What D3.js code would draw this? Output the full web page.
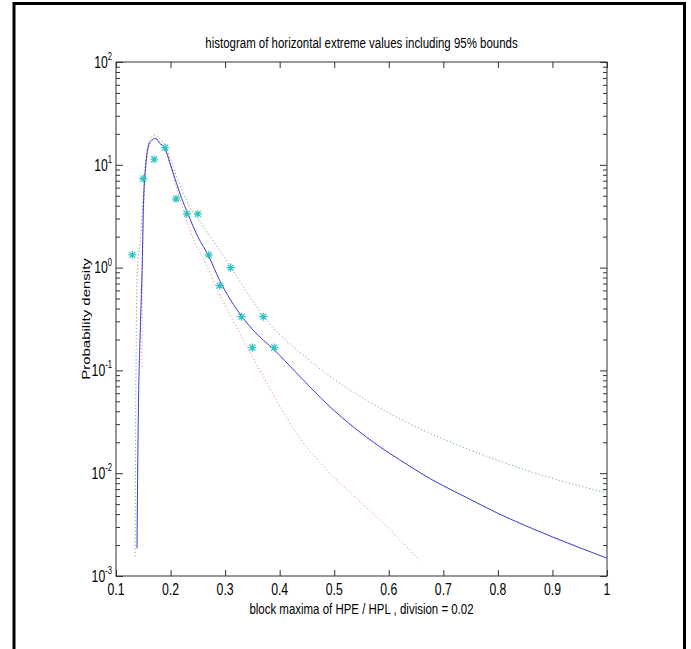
<!DOCTYPE html>
<html lang="en">
<head>
  <meta charset="UTF-8">
  <title>histogram of horizontal extreme values</title>
  <script src="https://d3js.org/d3.v7.min.js"></script>
  <style>
    body { margin: 0; background: #fff; }
    text { font-family: 'Liberation Sans', Arial, sans-serif; fill: #000; }
    .axis path.domain { display: none; }
    .axis line { stroke: #333; }
  </style>
</head>
<body>
  <svg width="691" height="649"></svg>

  <script>
    // histogram bins (density, division = 0.02)
    const binCenters = [0.13, 0.15, 0.17, 0.19, 0.21, 0.23, 0.25, 0.27, 0.29, 0.31, 0.33, 0.35, 0.37, 0.39];
    const binDensity = [1.33, 7.33, 11.33, 14.67, 4.67, 3.33, 3.33, 1.33, 0.667, 1.0, 0.333, 0.167, 0.333, 0.167];

    // fitted density (solid blue)
    const fitX = [0.1385, 0.1397, 0.1415, 0.144, 0.149, 0.150, 0.155, 0.159, 0.165, 0.1727, 0.18, 0.19, 0.199, 0.211,
                  0.22, 0.2306, 0.25, 0.27, 0.29, 0.31, 0.33, 0.35, 0.37, 0.388, 0.43, 0.492, 0.5835,
                  0.62, 0.675, 0.742, 0.8, 0.864, 0.9, 1.0];
    const fitY = [0.00186, 0.01, 0.058, 0.198, 1.85, 3.63, 10.4, 15.0, 17.3, 18.1, 16.2, 14.4, 10.4, 6.6,
                  4.78, 3.45, 2.0, 1.29, 0.75, 0.484, 0.339, 0.251, 0.197, 0.162, 0.0955, 0.0444, 0.0181,
                  0.0135, 0.0089, 0.00582, 0.00407, 0.00288, 0.0024, 0.00149];

    // 95% bound curves (dotted)
    const upperX = [0.135, 0.1367, 0.139, 0.1445, 0.15, 0.155, 0.165, 0.172, 0.18, 0.19, 0.21, 0.23, 0.255,
                    0.31, 0.37, 0.461, 0.553, 0.62, 0.675, 0.742, 0.864, 1.0];
    const upperY = [0.00155, 0.118, 0.885, 1.85, 5.0, 12.0, 18.5, 19.5, 18.0, 15.5, 8.0, 4.4, 2.75,
                    1.02, 0.338, 0.1175, 0.0537, 0.0339, 0.0245, 0.0174, 0.0102, 0.0064];
    const lowerX = [0.1476, 0.148, 0.149, 0.152, 0.158, 0.166, 0.174, 0.182, 0.19, 0.2, 0.21, 0.22, 0.24,
                    0.263, 0.285, 0.309, 0.37, 0.431, 0.492, 0.544, 0.6, 0.656];
    const lowerY = [0.108, 0.5, 1.5, 5.0, 13.0, 17.0, 17.5, 16.0, 13.5, 9.5, 6.2, 4.2, 2.0,
                    1.14, 0.62, 0.346, 0.0869, 0.0244, 0.01, 0.0055, 0.0029, 0.00143];

    const xTicks = [0.1, 0.2, 0.3, 0.4, 0.5, 0.6, 0.7, 0.8, 0.9, 1];
    const xTickLabels = ["0.1", "0.2", "0.3", "0.4", "0.5", "0.6", "0.7", "0.8", "0.9", "1"];
    const yExponents = [-3, -2, -1, 0, 1, 2];

    const svg = d3.select("svg"),
          margin = { top: 62, right: 84, bottom: 73, left: 116 },
          width = +svg.attr("width") - margin.left - margin.right,
          height = +svg.attr("height") - margin.top - margin.bottom;

    // the picture is squeezed sideways, so horizontal text is too
    const squeeze = 0.765;

    svg.append("rect").attr("width", 691).attr("height", 649).attr("fill", "#fff");

    // outer frame (no bottom edge)
    svg.append("path")
      .attr("d", "M14,649V3.5H684.5V649")
      .attr("fill", "none").attr("stroke", "#000").attr("stroke-width", 3);

    const x = d3.scaleLinear().domain([0.1, 1]).range([0, width]);
    const y = d3.scaleLog().domain([1e-3, 1e2]).range([height, 0]);

    const g = svg.append("g")
      .attr("transform", "translate(" + margin.left + "," + margin.top + ")");

    g.append("rect")
      .attr("width", width).attr("height", height)
      .attr("fill", "none").attr("stroke", "#333");

    // x axes, ticks pointing in
    g.append("g")
      .attr("class", "axis")
      .attr("transform", "translate(0," + height + ")")
      .call(d3.axisBottom(x).tickValues(xTicks).tickSizeInner(-6).tickSizeOuter(0).tickFormat(""));
    g.append("g")
      .attr("class", "axis")
      .call(d3.axisTop(x).tickValues(xTicks).tickSizeInner(-6).tickSizeOuter(0).tickFormat(""));

    g.append("g").selectAll("g")
      .data(xTicks).enter().append("g")
      .attr("transform", d => "translate(" + x(d) + "," + (height + 19) + ") scale(" + squeeze + ",1)")
      .append("text")
      .attr("text-anchor", "middle").attr("font-size", 16)
      .text((d, i) => xTickLabels[i]);

    // y axes: decades + minor ticks
    const decades = yExponents.map(e => Math.pow(10, e));
    const minors = [];
    decades.slice(0, -1).forEach(d => { for (let k = 2; k <= 9; k++) minors.push(d * k); });

    [[d3.axisLeft, 0], [d3.axisRight, width]].forEach(([ax, tx]) => {
      const a = g.append("g").attr("class", "axis").attr("transform", "translate(" + tx + ",0)");
      a.call(ax(y).tickValues(decades).tickSizeInner(-7).tickSizeOuter(0).tickFormat(""));
      a.append("g").call(ax(y).tickValues(minors).tickSizeInner(-4).tickSizeOuter(0).tickFormat(""))
        .select(".domain").remove();
    });

    // decade labels 10^n
    const yl = g.append("g").selectAll("g")
      .data(yExponents).enter().append("g")
      .attr("transform", d => "translate(-4," + y(Math.pow(10, d)) + ") scale(" + squeeze + ",1)")
      .append("text")
      .attr("text-anchor", "end")
      .attr("font-size", 16);
    yl.append("tspan").attr("dy", "0.36em").text("10");
    yl.append("tspan").attr("dy", "-0.78em").attr("font-size", 10).text(d => d);

    const line = d3.line().x(d => x(d[0])).y(d => y(d[1])).curve(d3.curveMonotoneX);

    g.append("path")
      .datum(upperX.map((v, i) => [v, upperY[i]]))
      .attr("d", line)
      .attr("fill", "none").attr("stroke", "#5a9e72").attr("stroke-width", 1)
      .attr("stroke-dasharray", "1,2.5");

    g.append("path")
      .datum(lowerX.map((v, i) => [v, lowerY[i]]))
      .attr("d", line)
      .attr("fill", "none").attr("stroke", "#ec7474").attr("stroke-width", 1)
      .attr("stroke-dasharray", "1,2.5");

    g.append("path")
      .datum(fitX.map((v, i) => [v, fitY[i]]))
      .attr("d", line)
      .attr("fill", "none").attr("stroke", "#3b3bcc").attr("stroke-width", 1);

    // asterisk markers
    g.selectAll(".star")
      .data(binCenters.map((v, i) => [v, binDensity[i]]))
      .enter().append("path")
      .attr("class", "star")
      .attr("transform", d => "translate(" + x(d[0]) + "," + y(d[1]) + ")")
      .attr("d", "M-4,0H4M0,-4V4M-3,-3L3,3M-3,3L3,-3")
      .attr("fill", "none").attr("stroke", "#2ec2c2").attr("stroke-width", 1.2);

    // title and labels
    svg.append("g")
      .attr("transform", "translate(" + (margin.left + width / 2) + ",48) scale(" + squeeze + ",1)")
      .append("text")
      .attr("text-anchor", "middle").attr("font-size", 15)
      .text("histogram of horizontal extreme values including 95% bounds");

    svg.append("g")
      .attr("transform", "translate(" + (margin.left + width / 2) + ",614) scale(" + squeeze + ",1)")
      .append("text")
      .attr("text-anchor", "middle").attr("font-size", 15)
      .text("block maxima of HPE / HPL , division = 0.02");

    svg.append("g")
      .attr("transform", "translate(90," + (margin.top + height / 2) + ") scale(" + squeeze + ",1) rotate(-90)")
      .append("text")
      .attr("text-anchor", "middle").attr("font-size", 15)
      .text("Probability density");
  </script>
</body>
</html>
